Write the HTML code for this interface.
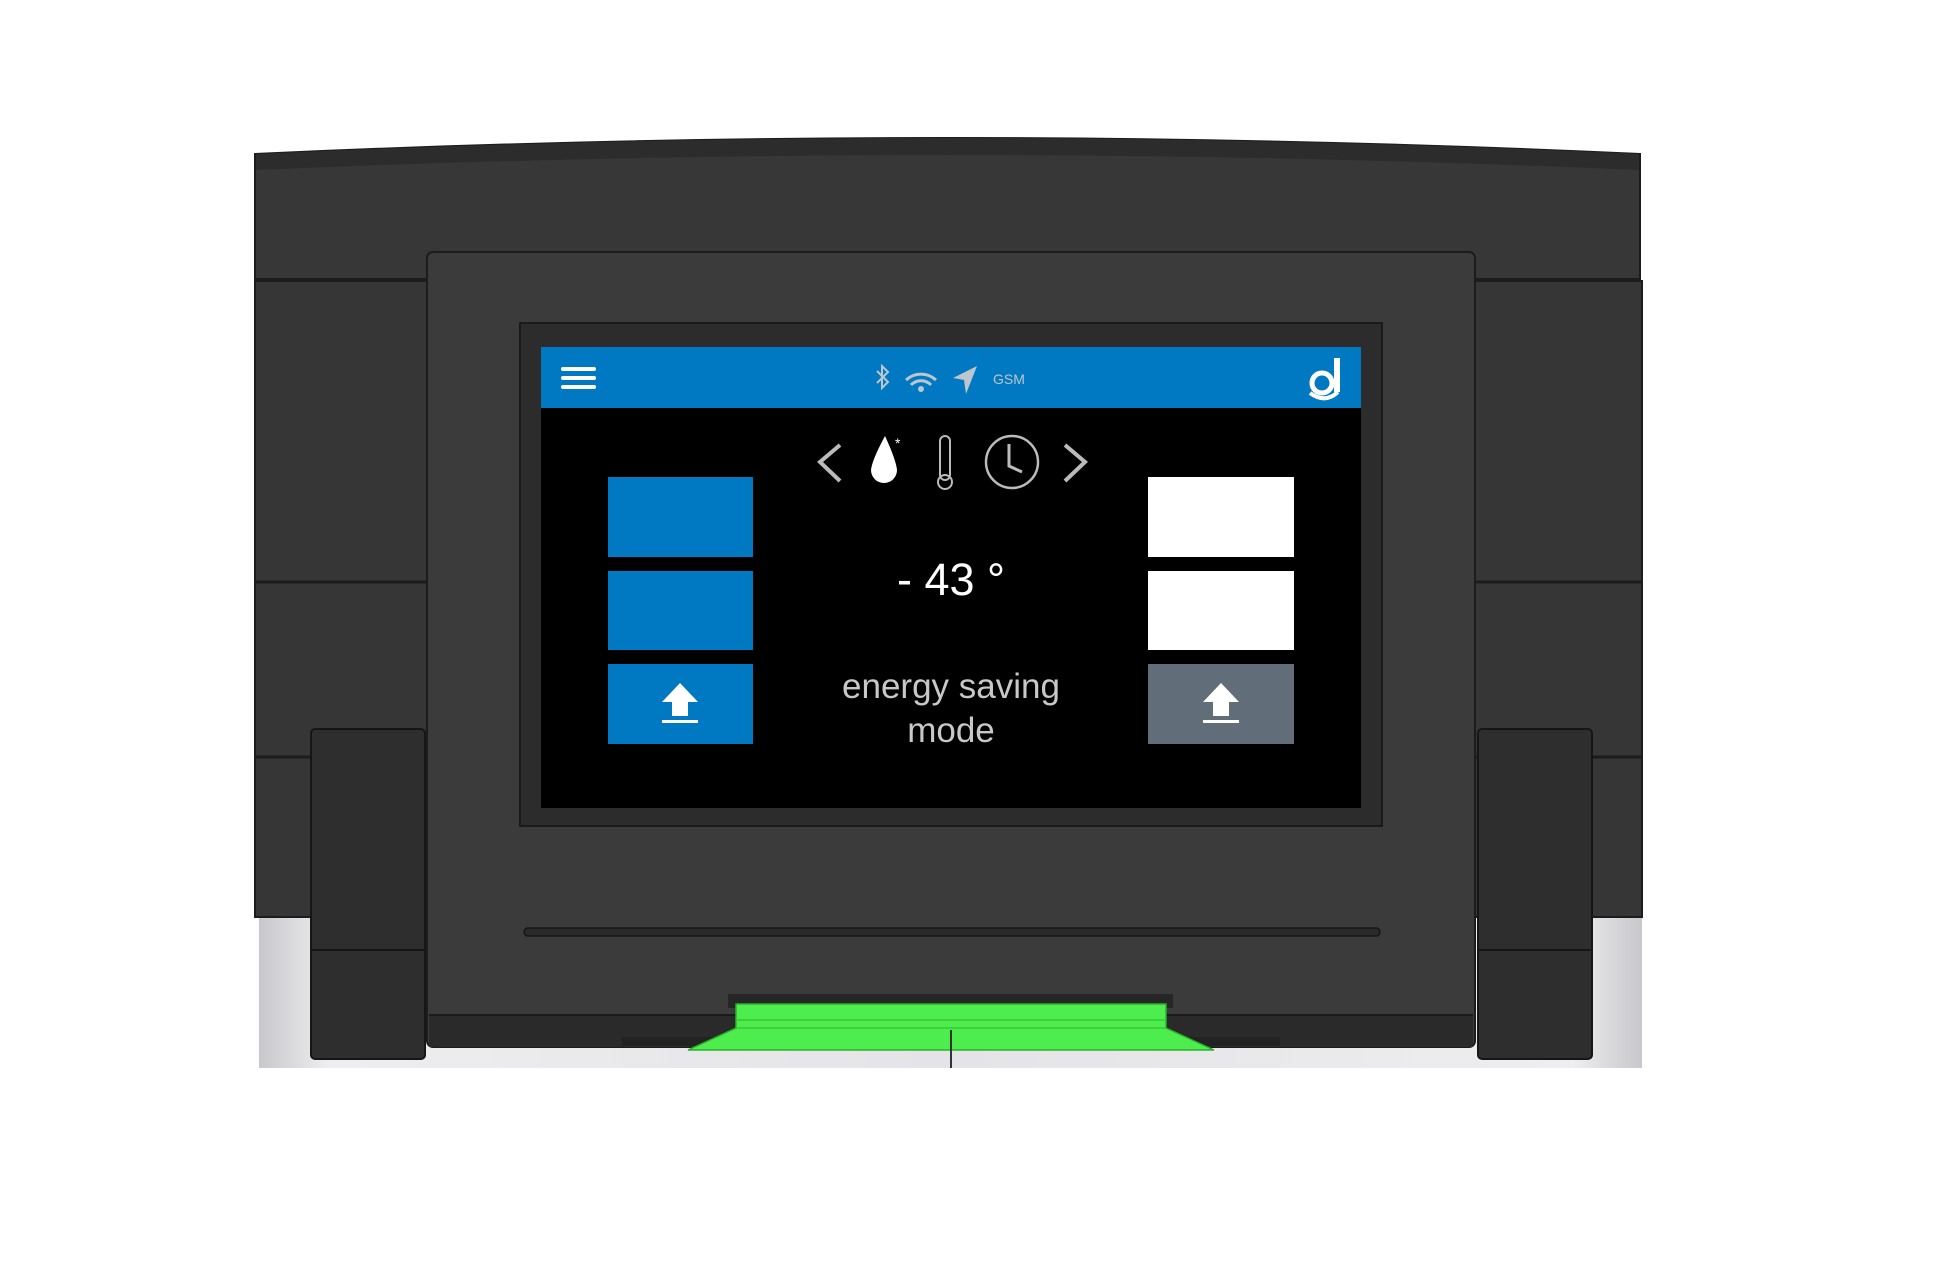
<!DOCTYPE html>
<html><head><meta charset="utf-8"><style>
html,body{margin:0;padding:0;background:#fff;}
svg{display:block}
text{font-family:"Liberation Sans",sans-serif}
</style></head><body>
<svg width="1957" height="1265" viewBox="0 0 1957 1265" xmlns="http://www.w3.org/2000/svg">
<defs>
<linearGradient id="silver" x1="0" x2="1" y1="0" y2="0">
<stop offset="0" stop-color="#c8c8cc"/><stop offset="0.05" stop-color="#eeeef0"/><stop offset="0.5" stop-color="#e4e4e8"/><stop offset="0.95" stop-color="#eeeef0"/><stop offset="1" stop-color="#c8c8cc"/>
</linearGradient>
</defs>
<!-- silver lower -->
<rect x="259" y="900" width="1383" height="168" fill="url(#silver)"/>
<!-- side panels -->
<rect x="255" y="281" width="175" height="636" fill="#363636" stroke="#1c1c1c" stroke-width="2"/>
<rect x="1470" y="281" width="172" height="636" fill="#363636" stroke="#1c1c1c" stroke-width="2"/>
<line x1="255" y1="582" x2="430" y2="582" stroke="#1c1c1c" stroke-width="3"/>
<line x1="255" y1="757" x2="430" y2="757" stroke="#1c1c1c" stroke-width="3"/>
<line x1="1470" y1="582" x2="1642" y2="582" stroke="#1c1c1c" stroke-width="3"/>
<line x1="1470" y1="757" x2="1642" y2="757" stroke="#1c1c1c" stroke-width="3"/>
<!-- top band -->
<path d="M255 154 Q950 122 1640 154 L1640 279 L255 279 Z" fill="#373737" stroke="#1c1c1c" stroke-width="2"/>
<path d="M256 154 Q950 122 1639 154 L1639 170 Q950 140 256 170 Z" fill="#2c2c2c"/>
<!-- hinges -->
<rect x="311" y="729" width="114" height="330" rx="4" fill="#2e2e2e" stroke="#161616" stroke-width="2"/>
<line x1="311" y1="950" x2="425" y2="950" stroke="#161616" stroke-width="2"/>
<rect x="1478" y="729" width="114" height="330" rx="4" fill="#2e2e2e" stroke="#161616" stroke-width="2"/>
<line x1="1478" y1="950" x2="1592" y2="950" stroke="#161616" stroke-width="2"/>
<!-- bezel -->
<rect x="427" y="252" width="1048" height="795" rx="6" fill="#3b3b3b" stroke="#1c1c1c" stroke-width="2"/>
<rect x="429" y="1015" width="1044" height="32" fill="#2a2a2a"/>
<line x1="429" y1="1015" x2="1473" y2="1015" stroke="#1a1a1a" stroke-width="2"/>
<!-- screen frame -->
<rect x="520" y="323" width="862" height="503" fill="#2c2c2c" stroke="#1a1a1a" stroke-width="2"/>
<rect x="541" y="347" width="820" height="461" fill="#000"/>
<rect x="541" y="347" width="820" height="61" fill="#0079c2"/>
<!-- hamburger -->
<g stroke="#fff" stroke-width="4" stroke-linecap="round">
<line x1="563" y1="369" x2="594" y2="369"/><line x1="563" y1="378" x2="594" y2="378"/><line x1="563" y1="387" x2="594" y2="387"/>
</g>
<!-- header icons -->
<path d="M877 371 L888 382 L882 388 L882 366 L888 372 L877 383" fill="none" stroke="#bcc6cc" stroke-width="2"/>
<g fill="none" stroke="#bcc6cc" stroke-width="3">
<path d="M906 380 A22 22 0 0 1 936 380"/><path d="M911 385 A14 14 0 0 1 931 385"/>
</g>
<circle cx="921" cy="389" r="3" fill="#bcc6cc"/>
<path d="M953 378 L977 366 L966 394 L964 380 Z" fill="#bcc6cc"/>
<text x="993" y="384" font-size="14" fill="#bcc6cc">GSM</text>
<!-- logo -->
<g fill="none" stroke="#fff" stroke-width="5">
<circle cx="1322" cy="383" r="10"/>
</g>
<rect x="1334" y="358" width="6" height="34" fill="#fff"/>
<path d="M1310 393 Q1325 404 1338 392" fill="none" stroke="#fff" stroke-width="4"/>
<!-- nav icons -->
<g fill="none" stroke="#bbb" stroke-width="4">
<path d="M840 445 L820 462 L840 481"/><path d="M1065 445 L1085 462 L1065 481"/>
</g>
<path d="M885 436 Q872 460 871 470 A13 13 0 0 0 897 470 Q896 460 885 436 Z" fill="#fff"/>
<text x="895" y="448" font-size="14" fill="#fff">*</text>
<rect x="940" y="436" width="10" height="44" rx="5" fill="none" stroke="#bbb" stroke-width="2"/>
<circle cx="945" cy="482" r="7" fill="none" stroke="#bbb" stroke-width="2"/>
<circle cx="1012" cy="462" r="26" fill="none" stroke="#bbb" stroke-width="2.5"/>
<path d="M1009 444 L1009 466 L1022 472" fill="none" stroke="#bbb" stroke-width="3"/>
<!-- buttons -->
<rect x="608" y="477" width="145" height="80" fill="#0079c2"/>
<rect x="608" y="571" width="145" height="79" fill="#0079c2"/>
<rect x="608" y="664" width="145" height="80" fill="#0079c2"/>
<rect x="1148" y="477" width="146" height="80" fill="#fff"/>
<rect x="1148" y="571" width="146" height="79" fill="#fff"/>
<rect x="1148" y="664" width="146" height="80" fill="#616e79"/>
<g fill="#fff">
<path d="M680 683 L698 702 L688 702 L688 716 L672 716 L672 702 L662 702 Z"/><rect x="662" y="720" width="36" height="3"/>
<path d="M1221 683 L1239 702 L1229 702 L1229 716 L1213 716 L1213 702 L1203 702 Z"/><rect x="1203" y="720" width="36" height="3"/>
</g>
<!-- text -->
<text x="951" y="595" font-size="45" fill="#fff" text-anchor="middle">- 43 °</text>
<text x="951" y="698" font-size="35" fill="#c8c8c8" text-anchor="middle">energy saving</text>
<text x="951" y="742" font-size="35" fill="#c8c8c8" text-anchor="middle">mode</text>
<!-- slit -->
<rect x="524" y="928" width="856" height="8" rx="4" fill="#2a2a2a" stroke="#161616" stroke-width="1.5"/>
<!-- bottom tabs -->
<path d="M622 1037 L720 1037 L720 1046 L622 1046 Z" fill="#222"/>
<path d="M1180 1037 L1280 1037 L1280 1046 L1180 1046 Z" fill="#222"/>
<!-- green light -->
<path d="M728 994 L1173 994 L1173 1008 L728 1008 Z" fill="#262626"/>
<path d="M736 1004 L1166 1004 L1166 1028 L1214 1050 L688 1050 L736 1028 Z" fill="#4ded4d" stroke="#2bb02b" stroke-width="1.5"/>
<line x1="736" y1="1020" x2="1166" y2="1020" stroke="#38c838" stroke-width="1.5"/>
<line x1="736" y1="1028" x2="1166" y2="1028" stroke="#38c838" stroke-width="1.5"/>
<line x1="951" y1="1030" x2="951" y2="1068" stroke="#333" stroke-width="2"/>
</svg>
</body></html>
